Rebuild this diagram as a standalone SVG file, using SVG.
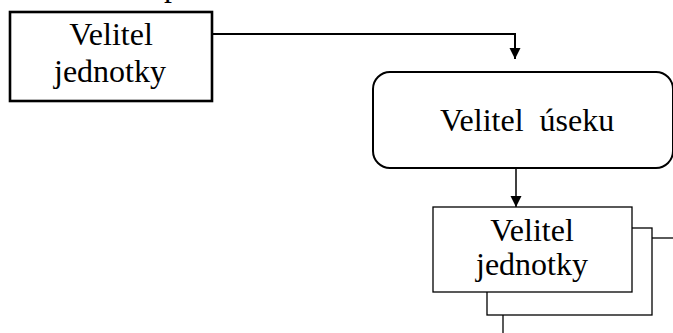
<svg xmlns="http://www.w3.org/2000/svg" width="673" height="333" viewBox="0 0 673 333">
<defs>
<style>
text{font-family:"Liberation Serif","Times New Roman",serif;font-size:32px;fill:#000}
.b{fill:#fff;stroke:#000}
.c{fill:none;stroke:#000}
</style>
<marker id="ah" markerWidth="12" markerHeight="12" refX="11" refY="5.5" orient="auto" markerUnits="userSpaceOnUse">
<path d="M0,0 L11,5.5 L0,11 Z" fill="#000"/>
</marker>
</defs>
<rect width="673" height="333" fill="#fff"/>
<text x="164" y="-4">p</text>
<g id="connectors">
<path class="c" stroke-width="2" d="M212,34 H515 V59" marker-end="url(#ah)"/>
<path class="c" stroke-width="1.5" d="M516,168 V207" marker-end="url(#ah)"/>
<path class="c" stroke-width="1.3" d="M652,238 H673"/>
<path class="c" stroke-width="1.3" d="M503,315 V333"/>
</g>
<g id="node-velitel-jednotky-1">
<rect class="b" x="10" y="12" width="202" height="89" stroke-width="2.6"/>
<text x="111" y="45" text-anchor="middle">Velitel</text>
<text x="110" y="82" text-anchor="middle">jednotky</text>
</g>
<g id="node-velitel-useku">
<rect class="b" x="373" y="72" width="300" height="96" rx="17" ry="17" stroke-width="2"/>
<text x="440" y="131" xml:space="preserve">Velitel  úseku</text>
</g>
<g id="node-velitel-jednotky-2">
<rect class="b" x="487" y="228" width="165" height="87" stroke-width="1.3"/>
<rect class="b" x="433" y="207" width="199" height="85" stroke-width="1.3"/>
<text x="532" y="241" text-anchor="middle">Velitel</text>
<text x="532" y="275" text-anchor="middle">jednotky</text>
</g>
</svg>
